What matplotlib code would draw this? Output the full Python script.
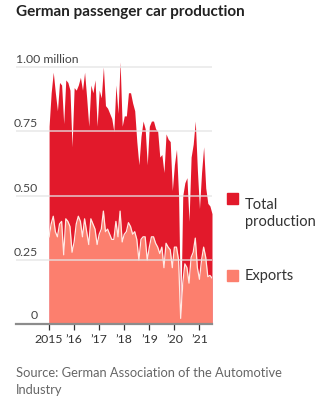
import numpy as np
import matplotlib
matplotlib.use('Agg')
import matplotlib.pyplot as plt
from matplotlib.patches import Rectangle

plt.rcParams['font.family'] = ['Lato', 'DejaVu Sans']

# monthly values, Jan 2015 - Jul 2021, million cars
total = [
    0.77, 0.90, 0.98, 0.90, 0.83, 0.94, 0.93, 0.78, 0.95, 0.94, 0.91, 0.69,   # 2015
    0.92, 0.91, 0.93, 0.96, 0.91, 0.98, 0.88, 0.77, 0.93, 0.90, 0.95, 0.77,   # 2016
    0.91, 0.88, 1.00, 0.85, 0.84, 0.82, 0.80, 0.75, 0.93, 0.82, 1.02, 0.77,   # 2017
    0.81, 0.81, 0.90, 0.90, 0.86, 0.83, 0.71, 0.62, 0.73, 0.79, 0.76, 0.62,   # 2018
    0.77, 0.79, 0.79, 0.76, 0.75, 0.65, 0.66, 0.59, 0.74, 0.72, 0.71, 0.52,   # 2019
    0.62, 0.68, 0.50, 0.015, 0.50, 0.55, 0.57, 0.40, 0.65, 0.70, 0.79, 0.60,  # 2020
    0.45, 0.59, 0.69, 0.53, 0.47, 0.46, 0.43,                                 # 2021
]
exports = [
    0.34, 0.39, 0.42, 0.36, 0.34, 0.39, 0.40, 0.27, 0.41, 0.40, 0.38, 0.28,
    0.32, 0.39, 0.42, 0.40, 0.34, 0.41, 0.36, 0.31, 0.41, 0.39, 0.37, 0.31,
    0.35, 0.37, 0.44, 0.36, 0.37, 0.35, 0.33, 0.33, 0.40, 0.34, 0.44, 0.32,
    0.35, 0.36, 0.395, 0.38, 0.35, 0.36, 0.33, 0.25, 0.33, 0.34, 0.34, 0.25,
    0.30, 0.34, 0.34, 0.315, 0.30, 0.275, 0.30, 0.22, 0.315, 0.30, 0.29, 0.22,
    0.30, 0.30, 0.25, 0.023, 0.16, 0.235, 0.22, 0.16, 0.26, 0.28, 0.335, 0.22,
    0.175, 0.25, 0.30, 0.26, 0.185, 0.19, 0.18,
]
tick_years = [2015, 2016, 2017, 2018, 2019, 2020, 2021]
tick_labels = ['2015', '\u201916', '\u201917', '\u201918', '\u201919', '\u201920', '\u201921']
grid_values = [0.25, 0.50, 0.75, 1.00]
grid_labels = ['0.25', '0.50', '0.75', '1.00 million']

red = '#e2192b'
salmon = '#fc7f6e'

x = 2015 + np.arange(len(total)) / 12

fig = plt.figure(figsize=(3.27, 4.05), dpi=100)
ax = fig.add_axes([16 / 327, 80.7 / 405, 196 / 327, 265 / 405])

ax.fill_between(x, 0, total, color=red, lw=0, zorder=1)
ax.fill_between(x, 0, exports, color=salmon, lw=0, zorder=2)
ax.plot(x, exports, color='#ffeae4', lw=0.9, zorder=2.5)

for v in grid_values:
    ax.axhline(v, color='#e4e4e4', lw=1.2, alpha=0.8, zorder=3)

ax.set_xlim(2015 - 33 / 25, 2021.5)
ax.set_ylim(0, 1.03)

ytr = ax.get_yaxis_transform()
for v, lab in zip(grid_values, grid_labels):
    if lab.startswith('1.00'):
        ax.text(0, v + 0.008, lab, transform=ytr, ha='left', va='bottom',
                fontsize=8.8, color='#444')
    else:
        ax.text(0.112, v + 0.008, lab, transform=ytr, ha='right', va='bottom',
                fontsize=8.8, color='#444')
ax.text(0.112, 0.012, '0', transform=ytr, ha='right', va='bottom', fontsize=8.8, color='#444')

for s in ['top', 'right', 'left']:
    ax.spines[s].set_visible(False)
ax.spines['bottom'].set_color('#8c8c8c')
ax.spines['bottom'].set_linewidth(1.6)
ax.set_yticks([])
ax.set_xticks(tick_years)
ax.set_xticklabels(tick_labels)
ax.tick_params(axis='x', length=4, width=0.9, color='#333', labelsize=8.8,
               labelcolor='#333', pad=3)

fig.text(16 / 327, 1 - 12 / 405, 'German passenger car production', fontsize=11,
         fontweight='bold', color='#222', ha='left', va='center')

# legend
fig.patches.append(Rectangle((227 / 327, 1 - 204 / 405), 11 / 327, 11 / 405,
                             transform=fig.transFigure, color=red))
fig.text(245 / 327, 1 - 198 / 405, 'Total\nproduction', fontsize=10.5, color='#333',
         ha='left', va='top', linespacing=1.25)
fig.patches.append(Rectangle((227 / 327, 1 - 281 / 405), 11 / 327, 11 / 405,
                             transform=fig.transFigure, color=salmon))
fig.text(245 / 327, 1 - 276 / 405, 'Exports', fontsize=10.5, color='#333',
         ha='left', va='center')

fig.text(16 / 327, 1 - 373 / 405, 'Source: German Association of the Automotive',
         fontsize=9.3, color='#666', ha='left', va='center')
fig.text(16 / 327, 1 - 390.5 / 405, 'Industry',
         fontsize=9.3, color='#666', ha='left', va='center')

fig.savefig('out.png', dpi=100)
